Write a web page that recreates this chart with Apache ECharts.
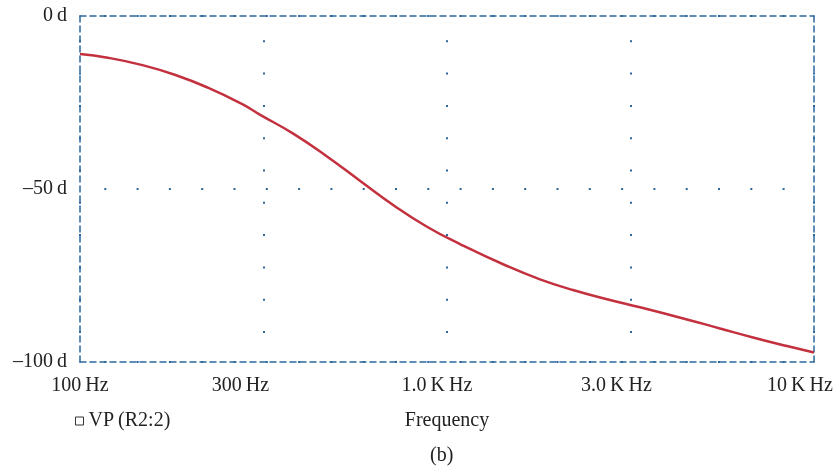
<!DOCTYPE html>
<html>
<head>
<meta charset="utf-8">
<script src="https://cdn.jsdelivr.net/npm/echarts@6/dist/echarts.min.js"></script>
<style>
  html, body { margin: 0; padding: 0; background: #fff; }
  #chart { width: 839px; height: 474px; }
</style>
</head>
<body>
<div id="chart"></div>
<script>
// values (Hz, degrees)
var freqHz = [100, 119, 148, 182, 223, 276, 309, 381, 471, 579, 713, 882, 1085, 1457, 1792, 2204, 2729, 3357, 4508, 5543, 6820, 8441, 10000];
var phaseDeg = [-11.0, -12.05, -14.2, -17.05, -20.7, -25.4, -28.5, -34.0, -40.6, -47.6, -54.6, -60.9, -65.9, -72.25, -76.1, -79.2, -81.85, -84.2, -87.7, -90.3, -92.9, -95.4, -97.25];
var xTickLabels = ['100\u2009Hz', '300\u2009Hz', '1.0\u2009K\u2009Hz', '3.0\u2009K\u2009Hz', '10\u2009K\u2009Hz'];
var seriesName = 'VP\u2009(R2:2)';

var blue = '#2c689d';
var serif = 'Liberation Serif';
// label nudges (px to the left) so the tick text sits like the original
var labelShift = [0, 23, 10, 14, 14];

var rich = {};
labelShift.forEach(function (s, i) {
    rich['s' + i] = { fontFamily: serif, fontSize: 20, color: '#222', padding: [0, s * 2, 0, 0] };
});

var dotted = { color: blue, width: 2, type: [2, 30.3], dashOffset: 8 };
var dashed = { color: blue, width: 1.5, type: [6, 4] };

var chart = echarts.init(document.getElementById('chart'));
chart.setOption({
    animation: false,
    title: {
        text: '(b)',
        left: 430, top: 446, padding: 0,
        textStyle: { fontFamily: serif, fontSize: 20, fontWeight: 'normal', color: '#222' }
    },
    legend: {
        left: 75, top: 411, padding: 0,
        icon: 'rect', itemWidth: 8, itemHeight: 8, itemGap: 4,
        itemStyle: { color: '#fff', borderColor: '#333', borderWidth: 1 },
        textStyle: { fontFamily: serif, fontSize: 20, color: '#222' },
        data: [seriesName]
    },
    grid: { left: 80, right: 25, top: 16, bottom: 112 },
    xAxis: [{
        type: 'log',
        logBase: Math.sqrt(10),
        min: 100, max: 10000,
        name: 'Frequency',
        nameLocation: 'middle',
        nameGap: 49,
        nameTextStyle: { fontFamily: serif, fontSize: 20, color: '#222' },
        axisLine: { onZero: false, lineStyle: dashed },
        axisTick: { show: false },
        axisLabel: {
            margin: 14,
            showMinLabel: true, showMaxLabel: true,
            formatter: function (v) {
                var i = Math.round(Math.log10(v) * 2) - 4;
                return '{s' + i + '|' + xTickLabels[i] + '}';
            },
            rich: rich
        },
        splitLine: { show: true, lineStyle: dotted },
        minorTick: { show: false }
    }, {
        type: 'value', position: 'top', min: 0, max: 1,
        axisLine: { onZero: false, lineStyle: dashed },
        axisTick: { show: false }, axisLabel: { show: false }, splitLine: { show: false }
    }],
    yAxis: [{
        type: 'value',
        min: -100, max: 0, interval: 50,
        axisLine: { show: true, onZero: false, lineStyle: dashed },
        axisTick: { show: false },
        axisLabel: {
            margin: 13,
            fontFamily: serif, fontSize: 20, color: '#222',
            formatter: function (v) {
                return v === 0 ? '0\u2009d' : '\u2013' + (-v) + '\u2009d';
            }
        },
        splitLine: { show: true, lineStyle: dotted }
    }, {
        type: 'value', position: 'right', min: 0, max: 1,
        axisLine: { show: true, onZero: false, lineStyle: dashed },
        axisTick: { show: false }, axisLabel: { show: false }, splitLine: { show: false }
    }],
    series: [{
        name: seriesName,
        type: 'line',
        smooth: 0.5,
        showSymbol: false,
        lineStyle: { color: '#c3313f', width: 2.5 },
        itemStyle: { color: '#c3313f' },
        data: freqHz.map(function (f, i) { return [f, phaseDeg[i]]; })
    }]
});
</script>
</body>
</html>
